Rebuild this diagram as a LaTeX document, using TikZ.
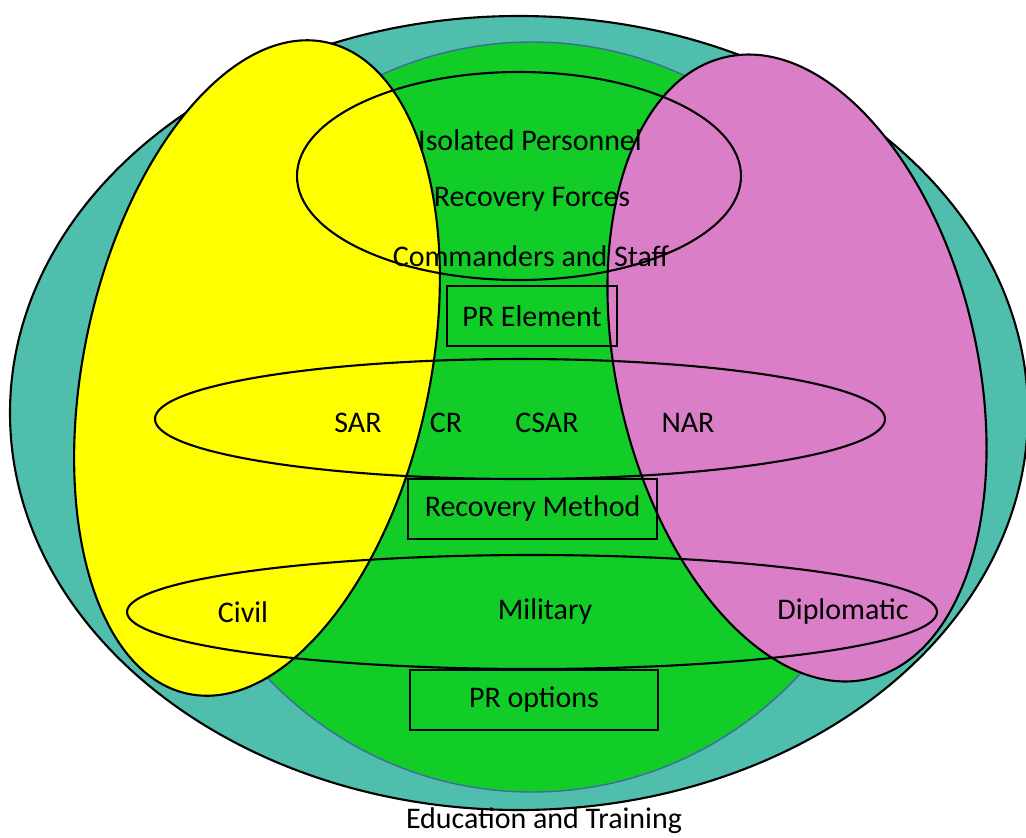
\documentclass[tikz,border=0pt]{standalone}
\usepackage{fontspec}
\setmainfont{Carlito}
\usetikzlibrary{positioning}

\definecolor{eduteal}{RGB}{80,190,172}
\definecolor{milgreen}{RGB}{18,204,40}
\definecolor{civyellow}{RGB}{255,255,0}
\definecolor{dipmagenta}{RGB}{218,126,200}
\definecolor{rimblue}{RGB}{62,108,158}

\begin{document}
\begin{tikzpicture}[
  x=0.025cm, y=-0.025cm,
  font=\fontsize{21.3}{25}\selectfont,
  rim/.style={draw=black, line width=1.5pt},
  ring/.style={draw=black, line width=1.5pt},
  lbl/.style={inner sep=1pt, text=black},
  framebox/.style={draw=black, line width=1.5pt, inner sep=0pt,
                   minimum height=1.48cm, text=black},
]
\useasboundingbox (0,0) rectangle (1026,837);

% areas
\filldraw[rim, fill=eduteal] (519,413) ellipse [x radius=509, y radius=397];
\filldraw[fill=milgreen, draw=rimblue, line width=1pt] (532,417) ellipse [x radius=368, y radius=375];
\filldraw[rim, fill=civyellow, shift={(257,368)}, rotate=-12] (0,0) ellipse [x radius=173, y radius=333];
\filldraw[rim, fill=dipmagenta, shift={(797,368)}, rotate=13] (0,0) ellipse [x radius=180, y radius=319];

% rings
\draw[ring] (519,176) ellipse [x radius=222, y radius=104];
\draw[ring] (520,419) ellipse [x radius=365, y radius=60];
\draw[ring] (532,612) ellipse [x radius=405, y radius=57];

% boxes
\node[framebox, minimum width=4.25cm]  (element) at (532,316)   {PR Element};
\node[framebox, minimum width=6.22cm]  (method)  at (532.5,509) {Recovery Method};
\node[framebox, minimum width=6.2cm]   (options) at (534,700)   {PR options};

% labels
\node[lbl] (isolated)  at (530,140) {Isolated Personnel};
\node[lbl] (forces)    at (532,199) {Recovery Forces};
\node[lbl] (staff)     at (531,256) {Commanders and Staff};
\node[lbl] (sar)       at (358,423) {SAR};
\node[lbl] (cr)        at (446,423) {CR};
\node[lbl] (csar)      at (547,423) {CSAR};
\node[lbl] (nar)       at (688,423) {NAR};
\node[lbl] (civil)     at (243,612) {Civil};
\node[lbl] (military)  at (545,612) {Military};
\node[lbl] (diplomatic) at (843,612) {Diplomatic};
\node[lbl] (training)  at (544,821) {Education and Training};

\end{tikzpicture}
\end{document}
